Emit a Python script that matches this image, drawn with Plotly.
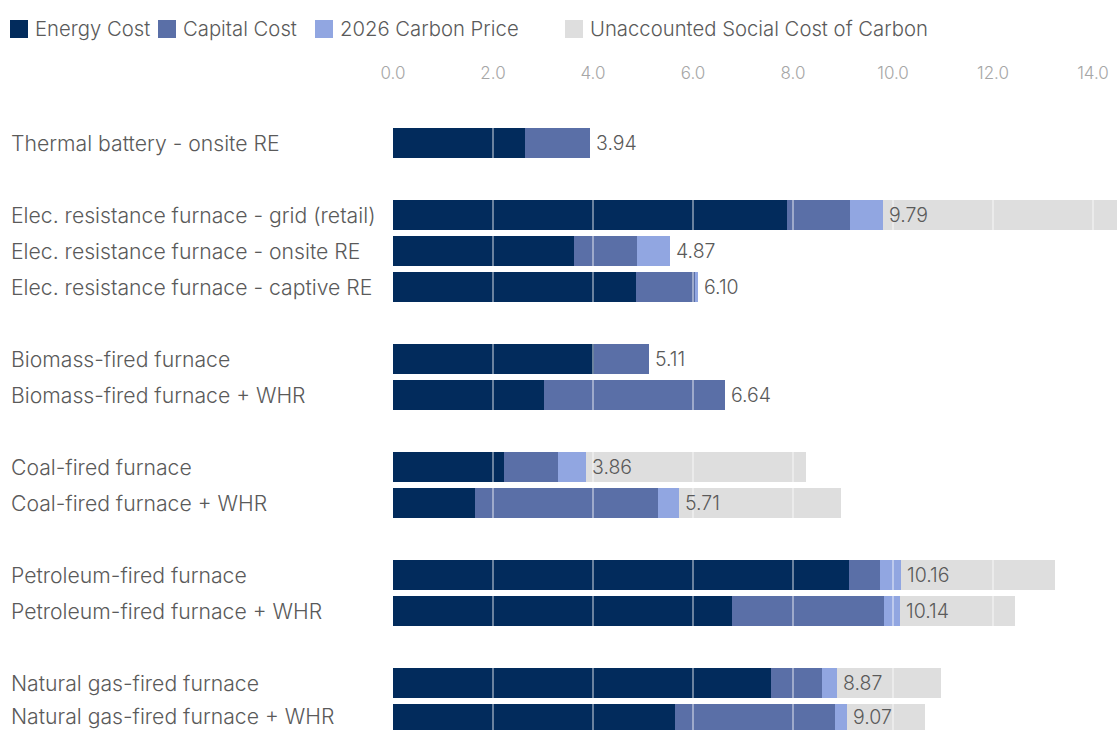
import plotly.graph_objects as go

# Technologies, top to bottom (None = spacer row between groups)
rows = [
    "Thermal battery - onsite RE",
    None,
    "Elec. resistance furnace - grid (retail)",
    "Elec. resistance furnace - onsite RE",
    "Elec. resistance furnace - captive RE",
    None,
    "Biomass-fired furnace",
    "Biomass-fired furnace + WHR",
    None,
    "Coal-fired furnace",
    "Coal-fired furnace + WHR",
    None,
    "Petroleum-fired furnace",
    "Petroleum-fired furnace + WHR",
    None,
    "Natural gas-fired furnace",
    "Natural gas-fired furnace + WHR",
]

technologies = [r for r in rows if r is not None]
energy_cost = [2.63, 7.87, 3.62, 4.85, 4.01, 3.01, 2.21, 1.64, 9.11, 6.78, 7.56, 5.63]
capital_cost = [1.31, 1.26, 1.25, 1.19, 1.10, 3.63, 1.08, 3.65, 0.63, 3.03, 1.02, 3.20]
carbon_price_2026 = [0.00, 0.66, 0.66, 0.06, 0.00, 0.00, 0.57, 0.42, 0.42, 0.33, 0.29, 0.24]
unaccounted_scc = [0.00, 5.10, 0.00, 0.00, 0.00, 0.00, 4.39, 3.25, 3.08, 2.29, 2.09, 1.56]
cost_labels = ["3.94", "9.79", "4.87", "6.10", "5.11", "6.64", "3.86", "5.71", "10.16", "10.14", "8.87", "9.07"]

x_ticks = [0, 2, 4, 6, 8, 10, 12, 14]

series = [
    ("Energy Cost", energy_cost, "#022b5c"),
    ("Capital Cost", capital_cost, "#5a6fa7"),
    ("2026 Carbon Price", carbon_price_2026, "#91a6e1"),
    ("Unaccounted Social Cost of Carbon", unaccounted_scc, "#dedede"),
]

ypos = [i for i, r in enumerate(rows) if r is not None]

W, H = 1117, 730
ML, MT = 393, 100
X_MAX = 14.48
plot_w = W - ML
plot_h = H - MT
FONT = "Inter"
TEXT_COL = "#5a5a5a"


def px_to_paper_x(px):
    return (px - ML) / plot_w


def px_to_paper_y(py):
    return (H - py) / plot_h


fig = go.Figure()
for name, vals, col in series:
    fig.add_trace(go.Bar(
        name=name, y=ypos, x=vals, orientation="h",
        marker=dict(color=col, line=dict(width=0)),
        width=0.83, showlegend=False, hoverinfo="x+name",
    ))

# light gridlines drawn over the bars
shapes = []
for t in x_ticks[1:]:
    shapes.append(dict(type="line", xref="x", yref="paper", x0=t, x1=t, y0=0, y1=1,
                       line=dict(color="rgba(255,255,255,0.55)", width=1.5), layer="above"))

annotations = []
# category labels on the left (bottom one nudged up to stay inside the page)
last_y = ypos[-1]
for y, name in zip(ypos, technologies):
    annotations.append(dict(xref="paper", yref="y", x=px_to_paper_x(9), y=y, text=name,
                            xanchor="left", yanchor="middle", showarrow=False,
                            yshift=3 if y == last_y else 0,
                            font=dict(family=FONT, size=21.2, weight=300, color=TEXT_COL)))
# value labels after the priced part of each bar
for y, e, c, p, lab in zip(ypos, energy_cost, capital_cost, carbon_price_2026, cost_labels):
    annotations.append(dict(xref="x", yref="y", x=e + c + p, y=y, text=lab,
                            xanchor="left", yanchor="middle", xshift=4, showarrow=False,
                            yshift=2 if y == last_y else 0,
                            font=dict(family=FONT, size=19.5, weight=300, color=TEXT_COL)))

# legend row
legend_items = [(10, "Energy Cost", "#022b5c"), (158, "Capital Cost", "#5a6fa7"),
                (315, "2026 Carbon Price", "#91a6e1"),
                (565, "Unaccounted Social Cost of Carbon", "#dedede")]
for lx, name, col in legend_items:
    shapes.append(dict(type="rect", xref="paper", yref="paper",
                       x0=px_to_paper_x(lx), x1=px_to_paper_x(lx + 18),
                       y0=px_to_paper_y(38), y1=px_to_paper_y(20),
                       fillcolor=col, line=dict(width=0), layer="above"))
    annotations.append(dict(xref="paper", yref="paper", x=px_to_paper_x(lx + 23),
                            y=px_to_paper_y(29), text=name, xanchor="left", yanchor="middle",
                            showarrow=False,
                            font=dict(family=FONT, size=20.3, weight=300, color=TEXT_COL)))

fig.update_layout(
    width=W, height=H,
    margin=dict(l=ML, r=0, t=MT, b=0),
    barmode="stack",
    plot_bgcolor="white", paper_bgcolor="white",
    xaxis=dict(side="top", range=[0, X_MAX], tickvals=x_ticks,
               ticktext=[f"{t:.1f}" for t in x_ticks], showgrid=False, zeroline=False,
               showline=False, ticks="", ticklabelstandoff=17,
               tickfont=dict(family=FONT, size=17, weight=300, color="#a6a6a6"),
               fixedrange=True),
    yaxis=dict(range=[16.306, -1.194], showticklabels=False, showgrid=False,
               zeroline=False, showline=False, fixedrange=True),
    shapes=shapes, annotations=annotations, showlegend=False,
)

fig.write_html("out.html")
